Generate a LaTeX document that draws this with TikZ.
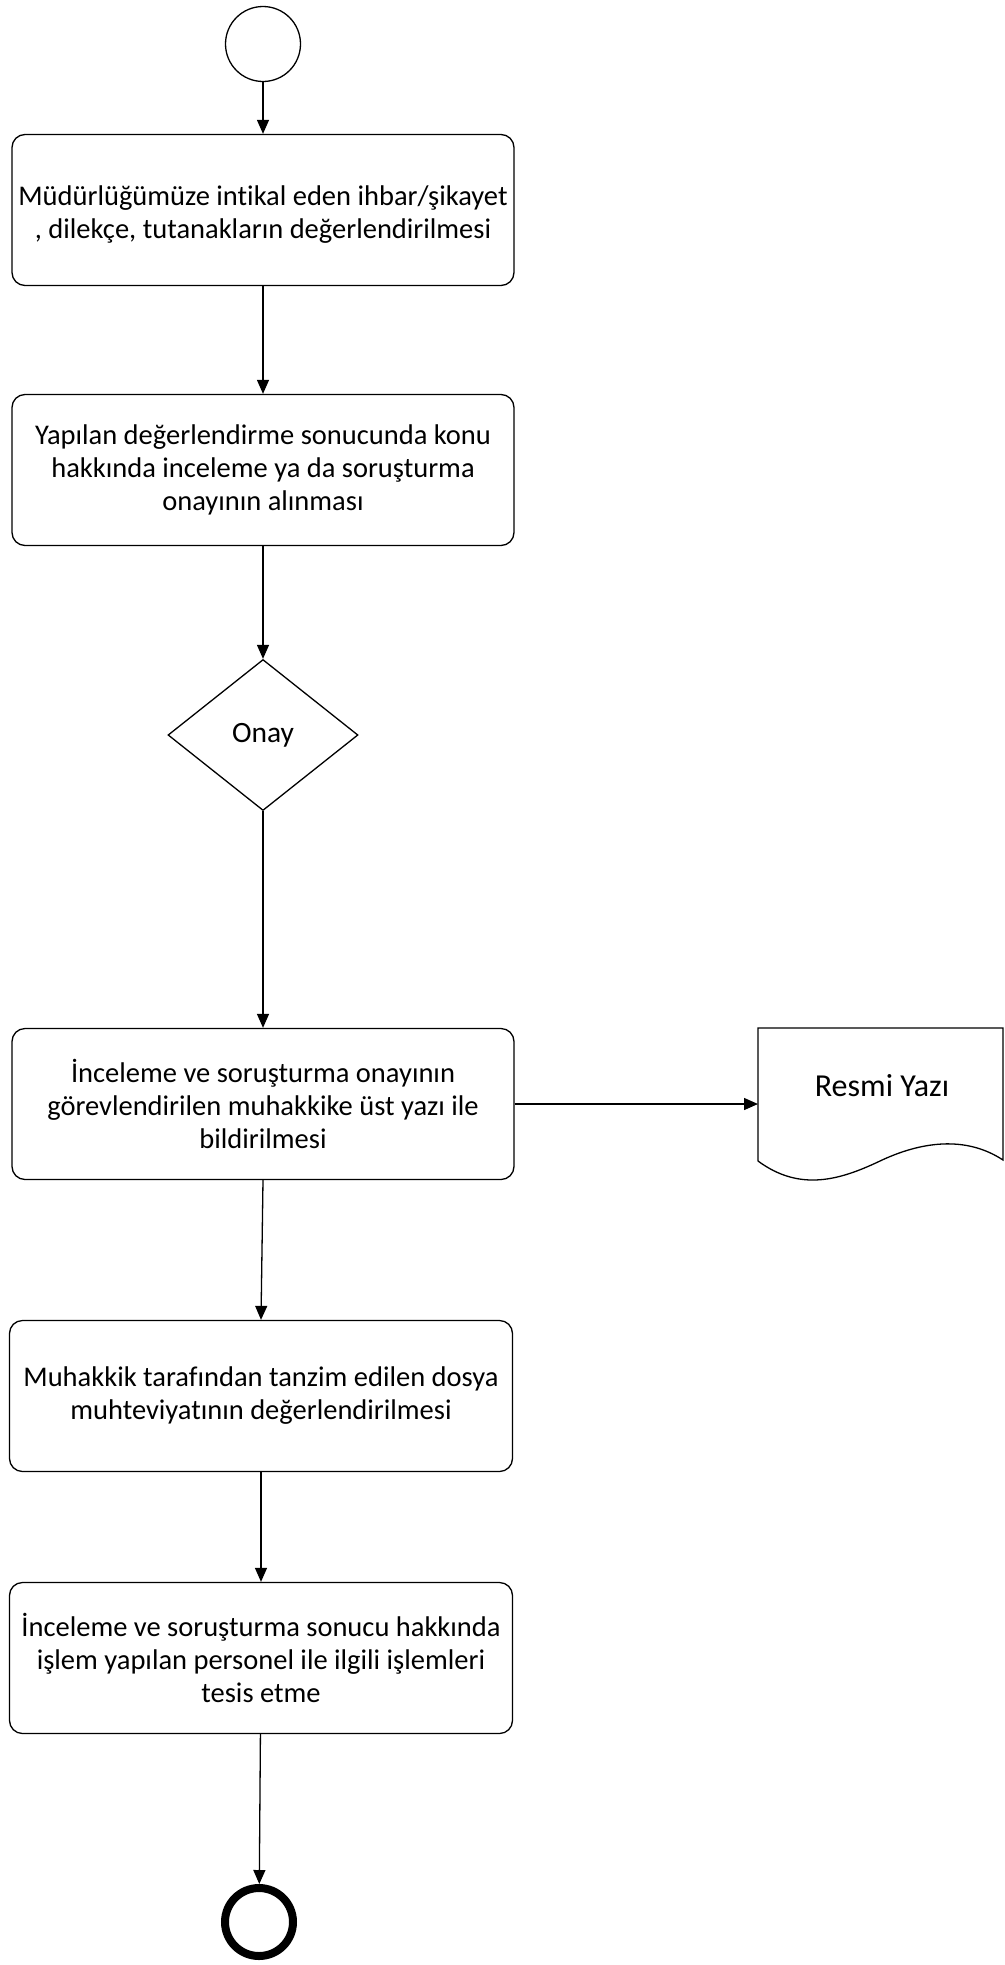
\documentclass[tikz,border=0pt]{standalone}
\usepackage{fontspec}
\setmainfont{Carlito}[Ligatures=NoCommon]
\usetikzlibrary{arrows.meta,shapes.geometric}
\begin{document}
\begin{tikzpicture}[x=1pt,y=-1pt,
  line width=1.3pt,
  txt/.style={font=\fontsize{28.5pt}{33pt}\selectfont, align=center},
  stepbox/.style={draw, rounded corners=13pt, minimum width=502pt, minimum height=151pt, inner sep=0pt, txt},
  flow/.style={-{Triangle[length=14pt,width=12pt]}},
  ]
\useasboundingbox (0,0) rectangle (1004,1965);
\node[draw, circle, minimum size=75pt, inner sep=0pt] (start) at (263,44) {};
\node[stepbox] (b1) at (263,210) {};
\node[txt] (b1t) at (263,215) {Müdürlüğümüze intikal eden ihbar/şikayet\\, dilekçe, tutanakların değerlendirilmesi};
\node[stepbox] (b2) at (263,470) {Yapılan değerlendirme sonucunda konu\\hakkında inceleme ya da soruşturma\\onayının alınması};
\node[draw, diamond, minimum width=190pt, minimum height=151pt, aspect=1.26, inner sep=0pt, txt, font=\fontsize{29.5pt}{33pt}\selectfont] (d) at (263,735) {Onay};
\node[stepbox] (b3) at (263,1104) {İnceleme ve soruşturma onayının\\görevlendirilen muhakkike üst yazı ile\\bildirilmesi};
\node[stepbox, minimum width=503pt] (b4) at (261,1396) {Muhakkik tarafından tanzim edilen dosya\\muhteviyatının değerlendirilmesi};
\node[stepbox, minimum width=503pt] (b5) at (261,1658) {İnceleme ve soruşturma sonucu hakkında\\işlem yapılan personel ile ilgili işlemleri\\tesis etme};
\node[draw, circle, line width=8pt, minimum size=68pt, inner sep=0pt] (end) at (259,1922) {};
% document shape
\coordinate (dtl) at (758,1028);
\coordinate (dtr) at (1003,1028);
\coordinate (dbl) at (758,1161);
\coordinate (dbr) at (1003,1160);
\coordinate (din) at (758,1104);
\draw (dbl) -- (dtl) -- (dtr) -- (dbr)
  .. controls (965,1135) and (920,1142) .. (880,1161)
  .. controls (840,1180) and (800,1192) .. (dbl);
\node[txt, font=\fontsize{32pt}{36pt}\selectfont] (doc) at (882,1086) {Resmi Yazı};
% connectors
\draw[flow] (start) -- (b1);
\draw[flow] (b1) -- (b2);
\draw[flow] (b2) -- (d);
\draw[flow] (d) -- (b3);
\draw[flow] (b3.east) -- (din);
\draw[flow] (b3.south) -- (b4.north);
\draw[flow] (b4) -- (b5);
\draw[flow] (b5) -- (end);
\end{tikzpicture}
\end{document}
